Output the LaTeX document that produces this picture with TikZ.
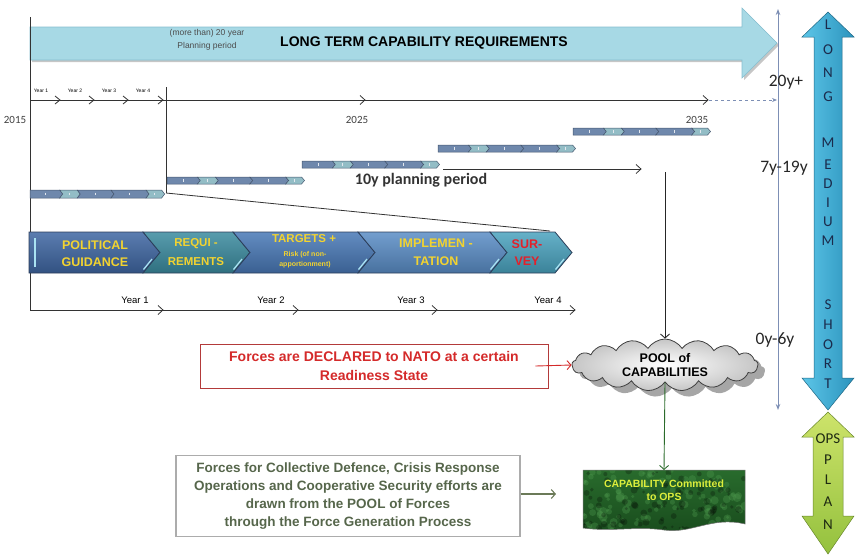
\documentclass[tikz,border=0pt]{standalone}
\usepackage{fontspec}
\setmainfont{Liberation Sans}
\newfontfamily\carl{Carlito}
\usetikzlibrary{arrows.meta,shapes.symbols,shadows,calc}

\definecolor{skyfill}{HTML}{A7D9E5}
\definecolor{skyedge}{HTML}{86BFCF}
\definecolor{axisblue}{HTML}{7D8FB5}
\definecolor{mbdark}{HTML}{6F88AC}
\definecolor{mblite}{HTML}{93BDC6}
\definecolor{mbedge}{HTML}{46576F}
\definecolor{phedge}{HTML}{2C3E5A}
\definecolor{phA}{HTML}{3E66A2}
\definecolor{phB}{HTML}{3B8B9F}
\definecolor{phC}{HTML}{4878B6}
\definecolor{phD}{HTML}{5A8DC6}
\definecolor{phE}{HTML}{4AA3BF}
\definecolor{phtext}{HTML}{F2D330}
\definecolor{surveyred}{HTML}{E3202A}
\definecolor{highlite}{HTML}{A9E2F2}
\definecolor{declred}{HTML}{D42A2A}
\definecolor{declbox}{HTML}{B33A3A}
\definecolor{olivetext}{HTML}{56664B}
\definecolor{olivearrow}{HTML}{6B7A58}
\definecolor{poolgreen}{HTML}{2B6B2B}
\definecolor{opsfillA}{HTML}{2A6E2E}
\definecolor{opsfillB}{HTML}{17481B}
\definecolor{opsspot}{HTML}{4E9A4E}
\definecolor{opstext}{HTML}{DDEE3C}
\definecolor{termtop}{HTML}{5CC6E8}
\definecolor{termbot}{HTML}{2C93BD}
\definecolor{termtext}{HTML}{1B2B4C}
\definecolor{planA}{HTML}{CDE36A}
\definecolor{planB}{HTML}{94C13E}
\definecolor{plantext}{HTML}{1E2A12}

\newcommand\fs[2]{\fontsize{#1}{#2}\selectfont}
% open chevron mark on a time line
\newcommand\tmark[3][4.5]{\draw[timeline] ({#2-5},{#3-#1}) -- (#2,#3) -- ({#2-5},{#3+#1});}
% one small five-stage planning bar
\newcommand\minibar[4]{%
  \pgfmathsetmacro\mbw{#2-#1}%
  \pgfmathsetmacro\mbm{(#3+#4)/2}%
  \foreach \fa/\fb/\col/\dd in {0/.22/mbdark/0, .22/.35/mblite/3, .35/.60/mbdark/3, .60/.86/mbdark/3, .86/.975/mblite/3}{%
    \pgfmathsetmacro\xa{#1+\fa*\mbw}%
    \pgfmathsetmacro\xb{#1+\fb*\mbw}%
    \filldraw[fill=\col, draw=mbedge, line width=0.5pt] (\xa,#3) -- (\xb,#3) -- ({\xb+3},\mbm) -- (\xb,#4) -- (\xa,#4) -- ({\xa+\dd},\mbm) -- cycle;
    \draw[white!80!mbdark, line width=0.9pt] ({(\xa+\xb)/2+1},{\mbm-1.4}) -- ({(\xa+\xb)/2+1},{\mbm+1.4});
  }}
% one stage of the four-year cycle
\newcommand\phaseseg[4]{%
  \path[draw=phedge, line width=0.8pt, top color=#4!85!white, bottom color=#4!80!black]
    (#1,232) -- (#2,232) -- ({#2+17},252.5) -- (#2,273) -- (#1,273) -- ({#1+#3},252.5) -- cycle;
  \draw[highlite, line width=1.3pt] ({#2+0.5},269.5) -- ({#2+9},259);}

\begin{document}
\begin{tikzpicture}[x=1pt,y=-1pt,
  timeline/.style={draw=black!80, line width=0.8pt},
  conn/.style={-{Straight Barb[length=4pt,width=9pt]}, line width=0.9pt},
  lbl/.style={inner sep=0pt, outer sep=0pt},
  phasetxt/.style={lbl, align=center, text=phtext, font=\bfseries\fs{12.5}{17.5}},
  termletter/.style={lbl, text=termtext, font=\carl\fs{15}{15}},
  planletter/.style={lbl, text=plantext, font=\carl\fs{15}{15}},
  yearlbl/.style={lbl, font=\fs{9.5}{10}},
  tinyyear/.style={lbl, font=\fs{5}{5}},
  yearnum/.style={lbl, text=black!75, font=\carl\fs{11}{11}},
  horizon/.style={lbl, text=black!85, font=\carl\fs{17.5}{17.5}}]
\useasboundingbox (0,0) rectangle (856,555);

% ---- long-term requirements arrow
\fill[gray!45] (32,29) -- (744,29) -- (744,10) -- (779,45) -- (744,80) -- (744,62) -- (32,62) -- cycle;
\filldraw[fill=skyfill, draw=skyedge, line width=0.6pt]
  (30,27) -- (742,27) -- (742,8) -- (777,43) -- (742,78) -- (742,60) -- (30,60) -- cycle;
\node[lbl, align=center, text=black!70, font=\fs{8.5}{12.5}] (period) at (207,40) {(more than) 20 year\\Planning period};
\node[lbl, font=\bfseries\fs{14}{14}] (ltcr) at (424,43) {LONG TERM CAPABILITY REQUIREMENTS};

% ---- main time line 2015 - 2035
\draw[timeline] (30,17) -- (30,310);
\draw[timeline] (30,100) -- (708,100);
\foreach \x in {60,94,128,163} {\tmark[4]{\x}{100}}
\tmark{365}{100}
\tmark{708}{100}
\draw[axisblue, line width=0.8pt, dashed, -{Stealth[length=5pt,width=4pt]}] (709,100) -- (777,100);
\node[tinyyear] (y1) at (41,91) {Year 1};
\node[tinyyear] (y2) at (75,91) {Year 2};
\node[tinyyear] (y3) at (109,91) {Year 3};
\node[tinyyear] (y4) at (143,91) {Year 4};
\node[yearnum] (t2015) at (15,120) {2015};
\node[yearnum] (t2025) at (357,120) {2025};
\node[yearnum] (t2035) at (697,120) {2035};

% ---- rolling planning bars
\draw[timeline] (166,87) -- (166,193);
\minibar{30}{165}{190}{198}
\minibar{167}{305}{177}{184}
\minibar{302}{440}{161}{168}
\minibar{438}{576}{145}{152}
\minibar{573}{711}{128}{135}
\draw[timeline] (166,193) -- (550,231);
\draw[timeline] (443,169) -- (641,169);
\tmark{641}{169}
\node[lbl, text=black!80, font=\carl\bfseries\fs{16}{16}] (tenyear) at (421,180) {10y planning period};

% ---- four-year cycle
\phaseseg{29}{143}{0}{phA}
\phaseseg{143}{233}{17}{phB}
\phaseseg{233}{358}{17}{phC}
\phaseseg{358}{490}{17}{phD}
\phaseseg{490}{555}{17}{phE}
\draw[highlite, line width=1.2pt] (35,238) -- (35,267);
\node[phasetxt] (pg) at (95,253.5) {POLITICAL\\GUIDANCE};
\node[phasetxt, font=\bfseries\fs{11.5}{19}] (req) at (196,252.5) {REQUI -\\REMENTS};
\node[lbl, text=phtext, font=\bfseries\fs{11.5}{12}] (tgt) at (304,238.5) {TARGETS +};
\node[lbl, align=center, text=phtext, font=\bfseries\fs{7}{10.5}] (risk) at (305,259.5) {Risk (of non-\\apportionment)};
\node[phasetxt] (impl) at (436,252.5) {IMPLEMEN -\\TATION};
\node[phasetxt, text=surveyred] (surv) at (527,252.5) {SUR-\\VEY};

% ---- four-year axis
\draw[timeline] (30,310) -- (575,310);
\foreach \x in {163,298,437,575} {\tmark{\x}{310}}
\node[yearlbl] (yr1) at (135,300) {Year 1};
\node[yearlbl] (yr2) at (271,300) {Year 2};
\node[yearlbl] (yr3) at (411,300) {Year 3};
\node[yearlbl] (yr4) at (548,300) {Year 4};

% ---- horizon axis
\coordinate (axtop) at (778,9);
\coordinate (axbot) at (778,410);
\draw[axisblue, line width=1pt, {Stealth[length=6pt,width=4.5pt]}-{Stealth[length=6pt,width=4.5pt]}] (axtop) -- (axbot);
\node[horizon] (h20) at (786,82) {20y+};
\node[horizon] (h7) at (784,168) {7y-19y};
\node[horizon] (h0) at (775,340) {0y-6y};

% ---- long / medium / short arrow
\path[draw=termbot!70!black, line width=0.5pt, left color=termtop, right color=termbot]
  (828,12) -- (854,37) -- (842,37) -- (842,378) -- (854,378) -- (828,410) -- (802,378)
  -- (814,378) -- (814,37) -- (802,37) -- cycle;
\foreach \ch/\yy [count=\k] in {L/25,O/50,N/73,G/97,M/143,E/165,D/184,I/203,U/222,M/241,S/305,H/325,O/345,R/364,T/384}
  {\node[termletter] (term\k) at (828,\yy) {\ch};}

% ---- operations planning arrow
\path[draw=planB!70!black, line width=0.5pt, top color=planA, bottom color=planB]
  (828,412) -- (854,437) -- (843,437) -- (843,516) -- (854,516) -- (828,554) -- (802,516)
  -- (813,516) -- (813,437) -- (802,437) -- cycle;
\node[planletter] (ops1) at (828,439) {OPS};
\foreach \ch/\yy [count=\k] in {P/460,L/480,A/502,N/525}
  {\node[planletter] (plan\k) at (828,\yy) {\ch};}

% ---- pool of capabilities
\node[cloud, cloud puffs=17, cloud puff arc=115, aspect=3.4, minimum width=186pt, minimum height=52pt,
      inner sep=0pt, draw=black!75, line width=0.8pt, inner color=white, outer color=gray!45,
      drop shadow={shadow xshift=7pt, shadow yshift=-6pt, fill=gray!70, opacity=1},
      align=center, font=\bfseries\fs{12.5}{14}] (pool) at (665,365) {POOL of\\CAPABILITIES};
\coordinate (drop) at (665,172);
\draw[conn, black!85] (drop) -- (pool.north);

% ---- declared forces
\node[draw=declbox, line width=0.9pt, minimum width=348pt, minimum height=44pt, inner sep=0pt,
      align=center, text=declred, font=\bfseries\fs{14}{19}] (decl) at (374,366)
      {Forces are DECLARED to NATO at a certain\\Readiness State};
\draw[conn, declred] ($(decl.east)+(-13,0)$) -- (pool.west);

% ---- capability committed to operations (mottled green sheet)
\pgfmathsetseed{7}
\begin{scope}
  \clip (583,470) -- (745,470) -- (745,524) .. controls (712,516) and (692,534) .. (664,530)
        .. controls (636,526) and (612,532) .. (583,528) -- cycle;
  \shade[top color=opsfillA, bottom color=opsfillB] (580,465) rectangle (750,540);
  \foreach \i in {1,...,110} {
    \fill[opsspot, opacity=0.35] ({583+rnd*162},{470+rnd*62}) circle ({1.5+rnd*3});}
  \foreach \i in {1,...,90} {
    \fill[black, opacity=0.25] ({583+rnd*162},{470+rnd*62}) circle ({1+rnd*2.5});}
\end{scope}
\draw[black!55, line width=0.5pt] (583,470) -- (745,470) -- (745,524) .. controls (712,516) and (692,534) .. (664,530)
        .. controls (636,526) and (612,532) .. (583,528) -- cycle;
\node[lbl, minimum width=162pt, minimum height=60pt, align=center, text=opstext,
      font=\bfseries\fs{10.5}{13}] (ops) at (664,500) {CAPABILITY Committed\\to OPS\\[6pt]};
\draw[conn, poolgreen] (pool.south) -- (ops.north);

% ---- force generation note
\node[draw=gray!65, line width=1.2pt, minimum width=344pt, minimum height=81pt, inner sep=0pt,
      align=center, text=olivetext, font=\bfseries\fs{13.5}{18}] (gen) at (348,496)
      {Forces for Collective Defence, Crisis Response\\Operations and Cooperative Security efforts are\\drawn from the POOL of Forces\\through the Force Generation Process};
\coordinate (genend) at (556,494);
\draw[conn, olivearrow, line width=1.1pt] (gen.east |- genend) -- (genend);
\end{tikzpicture}
\end{document}
